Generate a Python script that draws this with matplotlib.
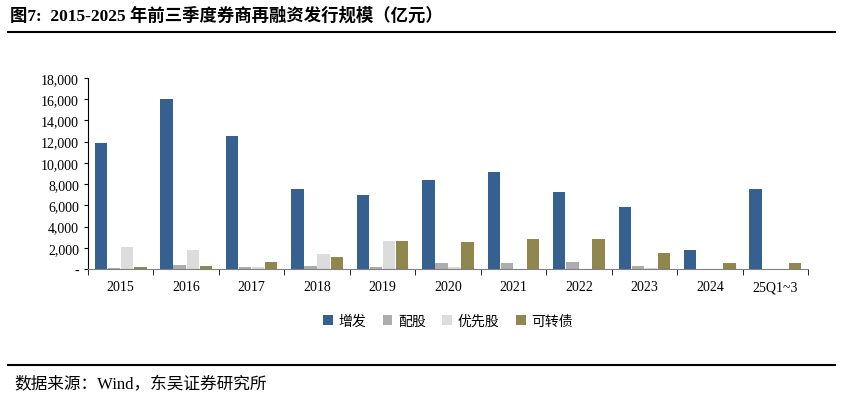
import matplotlib
matplotlib.use("Agg")
import matplotlib.pyplot as plt
import numpy as np
from matplotlib.ticker import FuncFormatter

plt.rcParams['font.family'] = ['Liberation Serif', 'Noto Sans CJK SC', 'DejaVu Sans']

years = ['2015','2016','2017','2018','2019','2020','2021','2022','2023','2024','25Q1~3']
zengfa = [11900,16000,12550,7550,6950,8400,9150,7300,5850,1800,7500]
peigu = [100,400,200,300,200,600,600,700,250,0,0]
youxian = [2100,1750,200,1450,2650,150,0,0,100,0,0]
kezhuan = [150,300,700,1150,2600,2550,2800,2800,1500,550,600]
names = ['增发','配股','优先股','可转债']
colors = ['#35608F','#ADADAD','#DCDCDC','#8F874E']

fig = plt.figure(figsize=(8.42,4.02), dpi=100)
ax = fig.add_axes([88/842, 1-270/402, 720/842, 191/402])
x = np.arange(len(years))
w = 0.2
for i,(d,c,n) in enumerate(zip([zengfa,peigu,youxian,kezhuan],colors,names)):
    ax.bar(x+(i-1.5)*w, d, w*0.95, color=c, label=n)
ax.set_xlim(-0.5, len(years)-0.5)
ax.set_ylim(0,18000)
ax.set_yticks(range(0,18001,2000))
ax.yaxis.set_major_formatter(FuncFormatter(lambda v,p: '-' if v==0 else f'{int(v):,}'))
ax.set_xticks(x)
ax.set_xticklabels(years)
ax.set_xticks(np.arange(-0.5,len(years),1), minor=True)
ax.tick_params(axis='x', which='major', length=0, labelsize=10, pad=8)
ax.tick_params(axis='x', which='minor', length=4, direction='out')
ax.tick_params(axis='y', labelsize=10, length=3)
for s in ['top','right']:
    ax.spines[s].set_visible(False)
ax.spines['bottom'].set_color('#808080')
ax.legend(loc='upper center', bbox_to_anchor=(0.5,-0.17), ncol=4, frameon=False, fontsize=10,
          handlelength=0.7, handleheight=0.7, columnspacing=1.2, handletextpad=0.4,
          prop={'family':['Noto Sans CJK SC'],'size':10})

fig.text(10/842, 1-16/402, '图7:  2015-2025 年前三季度券商再融资发行规模（亿元）', fontsize=12.5, fontweight='bold', va='center',
         family=['Liberation Serif','Noto Sans CJK SC'])
fig.add_artist(plt.Line2D([8/842, 835/842],[1-33/402,1-33/402], color='black', lw=1.5))
fig.add_artist(plt.Line2D([8/842, 835/842],[1-366/402,1-366/402], color='black', lw=1.5))
fig.text(14/842, 1-385/402, '数据来源：Wind，东吴证券研究所', fontsize=12, va='center',
         family=['Liberation Serif','Noto Sans CJK SC'])
fig.savefig('out.png', dpi=100)
